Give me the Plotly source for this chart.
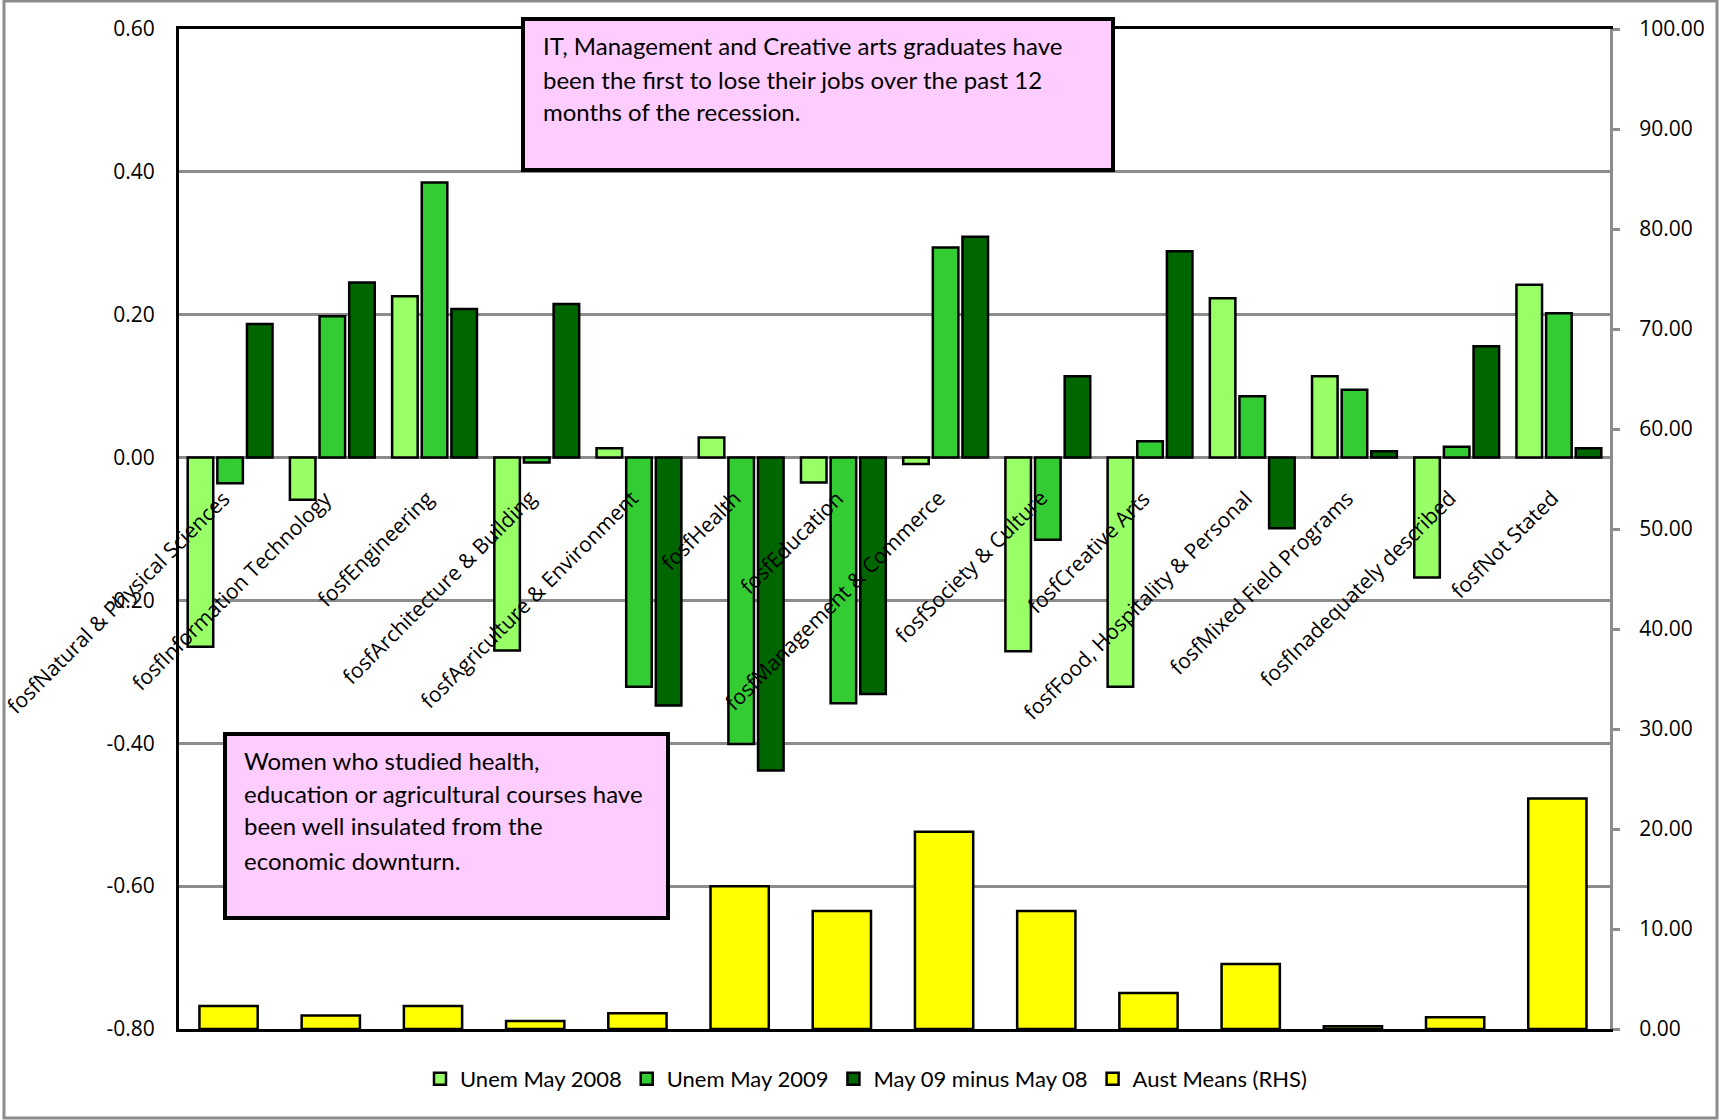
import plotly.graph_objects as go

categories = [
    "fosfNatural & Physical Sciences",
    "fosfInformation Technology",
    "fosfEngineering",
    "fosfArchitecture & Building",
    "fosfAgriculture & Environment",
    "fosfHealth",
    "fosfEducation",
    "fosfManagement & Commerce",
    "fosfSociety & Culture",
    "fosfCreative Arts",
    "fosfFood, Hospitality & Personal",
    "fosfMixed Field Programs",
    "fosfInadequately described",
    "fosfNot Stated",
]
unem_2008 = [-0.265, -0.059, 0.226, -0.270, 0.013, 0.028, -0.035, -0.009, -0.271, -0.321, 0.223, 0.114, -0.168, 0.242]
unem_2009 = [-0.036, 0.198, 0.385, -0.007, -0.321, -0.401, -0.344, 0.294, -0.115, 0.023, 0.086, 0.095, 0.015, 0.202]
diff_09_08 = [0.187, 0.245, 0.208, 0.215, -0.347, -0.438, -0.331, 0.309, 0.114, 0.289, -0.099, 0.009, 0.156, 0.013]
aust_means = [2.31, 1.34, 2.31, 0.80, 1.57, 14.28, 11.81, 19.73, 11.81, 3.61, 6.49, 0.27, 1.17, 23.04]

left_ticks = [-0.8, -0.6, -0.4, -0.2, 0.0, 0.2, 0.4, 0.6]
left_tick_text = ["-0.80", "-0.60", "-0.40", "-0.20", "0.00", "0.20", "0.40", "0.60"]
right_ticks = [0, 10, 20, 30, 40, 50, 60, 70, 80, 90, 100]
right_tick_text = ["0.00", "10.00", "20.00", "30.00", "40.00", "50.00", "60.00", "70.00", "80.00", "90.00", "100.00"]

box1_lines = ["IT, Management and Creative arts graduates have",
              "been the first to lose their jobs over the past 12",
              "months of the recession."]
box2_lines = ["Women who studied health,",
              "education or agricultural courses have",
              "been well insulated from the",
              "economic downturn."]

BOXFONT = "Lato, sans-serif"
REG = "Open Sans, DejaVu Sans, sans-serif"

L, R, T, B = 179, 110, 29, 91
W, H = 1720, 1120
PW, PH = W - L - R, H - T - B


def px(xp):
    return (xp - L) / PW


def py(yp):
    return (H - B - yp) / PH


fig = go.Figure()
line = dict(color="black", width=2.5)
fig.add_trace(go.Bar(x=categories, y=unem_2008, name="Unem May 2008",
                     marker=dict(color="#99FF66", line=line), width=0.25, offset=-0.415))
fig.add_trace(go.Bar(x=categories, y=unem_2009, name="Unem May 2009",
                     marker=dict(color="#33CC33", line=line), width=0.25, offset=-0.125))
fig.add_trace(go.Bar(x=categories, y=diff_09_08, name="May 09 minus May 08",
                     marker=dict(color="#006600", line=line), width=0.25, offset=0.165))
fig.add_trace(go.Bar(x=categories, y=aust_means, name="Aust Means (RHS)", yaxis="y2",
                     marker=dict(color="#FFFF00", line=line), width=0.57, offset=-0.30))

annotations = []
for c in categories:
    annotations.append(dict(x=c, y=0, xref="x", yref="y", text=c, showarrow=False,
                            textangle=-45, xanchor="right", yanchor="top",
                            xshift=8, yshift=-24,
                            font=dict(family=REG, size=21, color="black")))

for i, t in enumerate(box1_lines):
    annotations.append(dict(x=px(541), y=py([45, 79, 112][i]), xref="paper", yref="paper", text=t,
                            showarrow=False, xanchor="left", yanchor="middle", align="left",
                            font=dict(family=BOXFONT, size=24, color="black")))
for i, t in enumerate(box2_lines):
    annotations.append(dict(x=px(242), y=py([760, 793, 826, 860][i]), xref="paper", yref="paper", text=t,
                            showarrow=False, xanchor="left", yanchor="middle", align="left",
                            font=dict(family=BOXFONT, size=24, color="black")))

shapes = [
    dict(type="rect", xref="paper", yref="paper", x0=px(523), x1=px(1113), y0=py(170), y1=py(19),
         fillcolor="#FFCCFF", line=dict(color="black", width=4), layer="above"),
    dict(type="rect", xref="paper", yref="paper", x0=px(225), x1=px(668), y0=py(918), y1=py(734),
         fillcolor="#FFCCFF", line=dict(color="black", width=4), layer="above"),
    dict(type="rect", xref="paper", yref="paper", x0=px(4), x1=px(1717), y0=py(1118), y1=py(1),
         fillcolor="rgba(0,0,0,0)", line=dict(color="#8C8C8C", width=3), layer="below"),
]

fig.update_layout(
    width=W, height=H,
    margin=dict(l=L, r=R, t=T, b=B, pad=0),
    paper_bgcolor="white", plot_bgcolor="white",
    barmode="overlay",
    showlegend=True,
    legend=dict(orientation="h", x=px(866), xanchor="center", y=py(1079), yanchor="middle",
                font=dict(family=BOXFONT, size=22, color="black"), itemwidth=30,
                bgcolor="rgba(0,0,0,0)"),
    xaxis=dict(type="category", showticklabels=False, showgrid=False, ticks="",
               showline=True, linecolor="black", linewidth=3, mirror=True,
               range=[-0.5, len(categories) - 0.5], zeroline=False),
    yaxis=dict(range=[-0.8, 0.6], tickvals=left_ticks, ticktext=left_tick_text,
               showgrid=True, gridcolor="#8C8C8C", gridwidth=2.5,
               zeroline=True, zerolinecolor="#8C8C8C", zerolinewidth=3,
               showline=True, linecolor="black", linewidth=3, ticks="",
               ticklabelstandoff=17,
               tickfont=dict(family=REG, size=21, color="black")),
    yaxis2=dict(range=[0, 100], tickvals=right_ticks, ticktext=right_tick_text,
                overlaying="y", side="right",
                showgrid=False, zeroline=False, showline=True, linecolor="#8C8C8C", linewidth=3,
                ticks="outside", ticklen=7, tickwidth=2.5, tickcolor="#8C8C8C",
                ticklabelstandoff=15,
                tickfont=dict(family=REG, size=21, color="black")),
    annotations=annotations,
    shapes=shapes,
)

fig.write_html("out.html")
